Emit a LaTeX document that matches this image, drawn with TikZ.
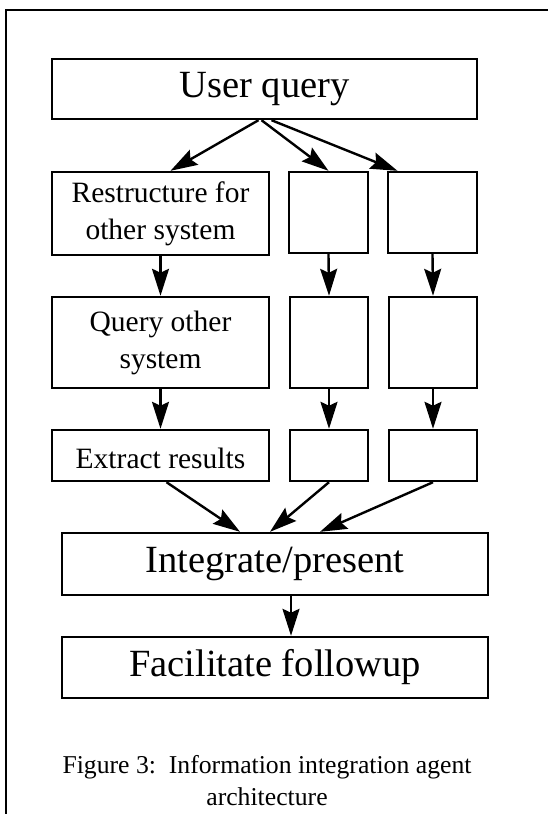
\documentclass[tikz,border=0pt]{standalone}
\usepackage{fontspec}
\setmainfont{Liberation Serif}
\usetikzlibrary{arrows.meta,calc}
\begin{document}
\begin{tikzpicture}[x=1pt,y=-1pt,
  box/.style={draw,line width=2.4pt,inner sep=0pt,align=center},
  big/.style={font=\fontsize{38.5}{44}\selectfont},
  mid/.style={font=\fontsize{29.5}{37}\selectfont},
  arr/.style={line width=2.4pt,-{Stealth[length=27pt,width=17pt,inset=4pt]}},
  frame/.style={line width=2.6pt}]
\useasboundingbox (0,0) rectangle (548,814);
\coordinate (ftr) at (548,10);
\coordinate (ftl) at (6,10);
\coordinate (fbl) at (6,814);
\draw[frame] (ftr) -- (ftl) -- (fbl);

\node[box,big,minimum width=425pt,minimum height=60pt] (uq) at (264.5,89) {User query};

\node[box,mid,minimum width=217pt,minimum height=83pt] (r1a) at (160.5,213.5) {Restructure for\\other system};
\node[box,minimum width=79pt,minimum height=81pt] (r1b) at (328.5,212.5) {};
\node[box,minimum width=89pt,minimum height=81pt] (r1c) at (432.5,212.5) {};

\node[box,mid,minimum width=217pt,minimum height=91pt] (r2a) at (160.5,342.5) {Query other\\system};
\node[box,minimum width=78pt,minimum height=91pt] (r2b) at (329,342.5) {};
\node[box,minimum width=88pt,minimum height=91pt] (r2c) at (433,342.5) {};

\node[box,minimum width=217pt,minimum height=51pt] (r3a) at (160.5,455.5) {};
\node[mid] (r3t) at ($(r3a.center)+(0,3)$) {Extract results};
\node[box,minimum width=78pt,minimum height=51pt] (r3b) at (329,455.5) {};
\node[box,minimum width=88pt,minimum height=51pt] (r3c) at (433,455.5) {};

\node[box,big,minimum width=426pt,minimum height=62pt] (ip) at (275,564) {Integrate/present};
\node[box,big,minimum width=426pt,minimum height=61pt] (ff) at (275,667.5) {Facilitate followup};

\node[font=\fontsize{25.7}{32}\selectfont,align=center] (cap) at (267,781) {Figure 3:\ \ Information integration agent\\architecture};

% arrows from user query
\draw[arr] ([xshift=-6pt]uq.south) -- ([xshift=10pt]r1a.north);
\draw[arr] ([xshift=-3pt]uq.south) -- (r1b.north);
\draw[arr] ([xshift=7pt]uq.south) -- ([xshift=-35pt]r1c.north);

% vertical arrows
\draw[arr] (r1a.south) -- (r2a.north);
\draw[arr] (r1b.south) -- (r2b.north);
\draw[arr] (r1c.south) -- (r2c.north);
\draw[arr] (r2a.south) -- (r3a.north);
\draw[arr] (r2b.south) -- (r3b.north);
\draw[arr] (r2c.south) -- (r3c.north);

% into integrate
\draw[arr] ([xshift=6pt]r3a.south) -- ([xshift=-35pt]ip.north);
\draw[arr] (r3b.south) -- ([xshift=-5pt]ip.north);
\draw[arr] (r3c.south) -- ([xshift=45pt]ip.north);

\draw[arr] ([xshift=16pt]ip.south) -- ([xshift=16pt]ff.north);
\end{tikzpicture}
\end{document}
